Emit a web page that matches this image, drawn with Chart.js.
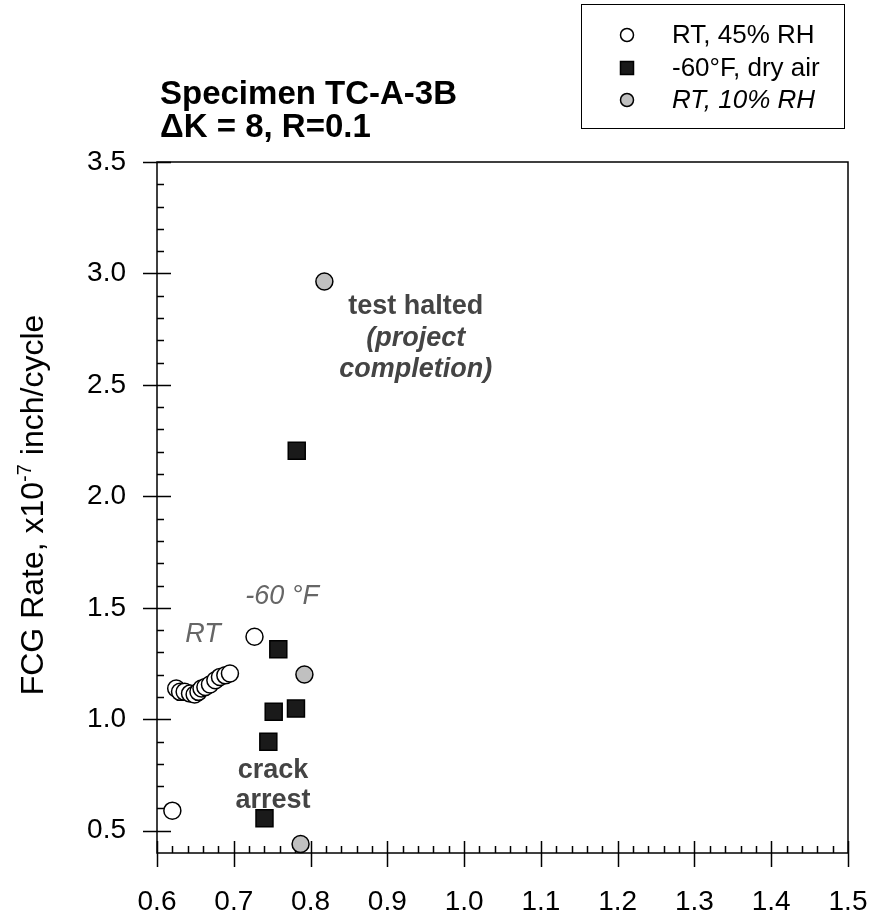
<!DOCTYPE html>
<html>
<head>
<meta charset="utf-8">
<script src="https://cdn.jsdelivr.net/npm/chart.js@4.4.1/dist/chart.umd.min.js"></script>
<style>
  html, body { margin: 0; padding: 0; background: #fff; }
  #wrap { width: 873px; height: 920px; position: relative; }
</style>
</head>
<body>
<div id="wrap"><canvas id="fcg"></canvas></div>
<script>
// FCG rate vs. crack length, specimen TC-A-3B
const FONT = '"Liberation Sans", Arial, Helvetica, sans-serif';

const xTicks = [0.6, 0.7, 0.8, 0.9, 1.0, 1.1, 1.2, 1.3, 1.4, 1.5];
const yTicks = [0.5, 1.0, 1.5, 2.0, 2.5, 3.0, 3.5];

// RT, 45% RH
const rtHumidX = [0.620, 0.625, 0.630, 0.636, 0.643, 0.649, 0.654, 0.658, 0.663, 0.669, 0.676, 0.682, 0.689, 0.695, 0.727];
const rtHumidY = [0.59, 1.138, 1.123, 1.123, 1.115, 1.111, 1.123, 1.138, 1.145, 1.156, 1.175, 1.190, 1.197, 1.205, 1.37];

// -60°F, dry air
const coldX = [0.740, 0.745, 0.752, 0.758, 0.781, 0.782];
const coldY = [0.556, 0.899, 1.034, 1.314, 1.048, 2.205];

// RT, 10% RH
const rtDryX = [0.787, 0.792, 0.818];
const rtDryY = [0.440, 1.201, 2.964];

const seriesLabels = ['RT, 45% RH', '-60\u00B0F, dry air', 'RT, 10% RH'];

// text notes anchored in data units
const notes = [
  { text: 'RT', x: 0.660, y: 1.38, style: 'italic', color: '#666' },
  { text: '-60 \u00B0F', x: 0.763, y: 1.55, style: 'italic', color: '#666' },
  { text: 'test halted', x: 0.937, y: 2.85, style: 'bold', color: '#444' },
  { text: '(project', x: 0.937, y: 2.71, style: 'italic bold', color: '#444' },
  { text: 'completion)', x: 0.937, y: 2.57, style: 'italic bold', color: '#444' },
  { text: 'crack', x: 0.751, y: 0.77, style: 'bold', color: '#444' },
  { text: 'arrest', x: 0.751, y: 0.635, style: 'bold', color: '#444' }
];

const pts = (xs, ys) => xs.map((x, i) => ({ x, y: ys[i] }));

const framePlugin = {
  id: 'frame',
  beforeDatasetsDraw(chart) {
    const { ctx, chartArea: a, scales: { x, y } } = chart;
    ctx.save();
    ctx.strokeStyle = '#000';
    ctx.lineWidth = 1.5;
    ctx.strokeRect(a.left, a.top, a.right - a.left, a.bottom - a.top);
    ctx.beginPath();
    // x ticks: major cross the axis, minor point inward
    for (let v = 0.6; v <= 1.5001; v += 0.02) {
      const px = Math.round(x.getPixelForValue(v)) + 0.5;
      const major = Math.abs(v * 10 - Math.round(v * 10)) < 1e-6;
      ctx.moveTo(px, a.bottom - (major ? 12 : 7));
      ctx.lineTo(px, a.bottom + (major ? 14 : 0));
    }
    // y ticks
    for (let v = 0.5; v <= 3.5001; v += 0.1) {
      const py = Math.round(y.getPixelForValue(v)) + 0.5;
      const major = Math.abs(v * 2 - Math.round(v * 2)) < 1e-6;
      ctx.moveTo(a.left - (major ? 14 : 0), py);
      ctx.lineTo(a.left + (major ? 14 : 7), py);
    }
    ctx.stroke();
    ctx.restore();
  },
  afterDraw(chart) {
    const { ctx, scales: { x, y } } = chart;
    ctx.save();

    // title
    ctx.fillStyle = '#000';
    ctx.textBaseline = 'alphabetic';
    ctx.textAlign = 'left';
    ctx.font = 'bold 33px ' + FONT;
    ctx.fillText('Specimen TC-A-3B', 160, 104);
    ctx.fillText('\u0394K = 8, R=0.1', 160, 137);

    // y axis title with superscript
    ctx.save();
    ctx.translate(43, 505);
    ctx.rotate(-Math.PI / 2);
    const big = '32px ' + FONT, small = '20px ' + FONT;
    const parts = [['FCG Rate, x10', big, 0], ['-7', small, -12], [' inch/cycle', big, 0]];
    let total = 0;
    parts.forEach(p => { ctx.font = p[1]; total += ctx.measureText(p[0]).width; });
    let cx = -total / 2;
    parts.forEach(p => {
      ctx.font = p[1];
      ctx.fillText(p[0], cx, p[2]);
      cx += ctx.measureText(p[0]).width;
    });
    ctx.restore();

    // notes
    ctx.textAlign = 'center';
    ctx.textBaseline = 'middle';
    notes.forEach(n => {
      ctx.font = n.style + ' 27px ' + FONT;
      ctx.fillStyle = n.color;
      ctx.fillText(n.text, x.getPixelForValue(n.x), y.getPixelForValue(n.y));
    });

    // legend box
    ctx.strokeStyle = '#000';
    ctx.lineWidth = 1;
    ctx.strokeRect(581.5, 4.5, 263, 124);
    const rows = [35, 68, 100];
    chart.data.datasets.forEach((ds, i) => {
      const opts = {
        pointStyle: ds.pointStyle,
        radius: ds.pointStyle === 'rect' ? 9.2 : 6.5,
        rotation: 0,
        borderWidth: 1.5
      };
      ctx.fillStyle = ds.backgroundColor;
      ctx.strokeStyle = ds.borderColor;
      ctx.lineWidth = 1.5;
      Chart.helpers.drawPoint(ctx, opts, 627, rows[i]);
      ctx.fillStyle = '#000';
      ctx.textAlign = 'left';
      ctx.font = (i === 2 ? 'italic ' : '') + '26px ' + FONT;
      ctx.fillText(ds.label, 672, rows[i] + 1);
    });
    ctx.restore();
  }
};

new Chart(document.getElementById('fcg'), {
  type: 'scatter',
  data: {
    datasets: [
      {
        label: seriesLabels[0],
        data: pts(rtHumidX, rtHumidY),
        pointStyle: 'circle',
        pointRadius: 8.5,
        backgroundColor: '#ffffff',
        borderColor: '#000000',
        borderWidth: 1.5
      },
      {
        label: seriesLabels[1],
        data: pts(coldX, coldY),
        pointStyle: 'rect',
        pointRadius: 12,
        backgroundColor: '#1a1a1a',
        borderColor: '#000000',
        borderWidth: 1.5
      },
      {
        label: seriesLabels[2],
        data: pts(rtDryX, rtDryY),
        pointStyle: 'circle',
        pointRadius: 8.5,
        backgroundColor: '#c0c0c0',
        borderColor: '#000000',
        borderWidth: 1.5
      }
    ]
  },
  options: {
    responsive: true,
    maintainAspectRatio: false,
    animation: false,
    clip: false,
    layout: { padding: { left: 0, top: 162, right: 25, bottom: 0 } },
    plugins: {
      legend: { display: false },
      tooltip: { enabled: false }
    },
    elements: { point: { hoverRadius: 8.5 } },
    scales: {
      x: {
        type: 'linear',
        min: 0.6,
        max: 1.5,
        afterBuildTicks: s => { s.ticks = xTicks.map(v => ({ value: v })); },
        afterFit: s => { s.height = 67; s.paddingLeft = 0; s.paddingRight = 0; },
        grid: { display: false, drawTicks: false },
        border: { display: false },
        ticks: {
          color: '#000',
          font: { family: FONT, size: 28 },
          padding: 32,
          maxRotation: 0,
          autoSkip: false,
          callback: v => v.toFixed(1)
        }
      },
      y: {
        type: 'linear',
        min: 0.4,
        max: 3.5,
        afterBuildTicks: s => { s.ticks = yTicks.map(v => ({ value: v })); },
        afterFit: s => { s.width = 157; s.paddingTop = 0; s.paddingBottom = 0; },
        grid: { display: false, drawTicks: false },
        border: { display: false },
        ticks: {
          color: '#000',
          font: { family: FONT, size: 28 },
          padding: 31,
          autoSkip: false,
          callback: v => v.toFixed(1)
        }
      }
    }
  },
  plugins: [framePlugin]
});
</script>
</body>
</html>
